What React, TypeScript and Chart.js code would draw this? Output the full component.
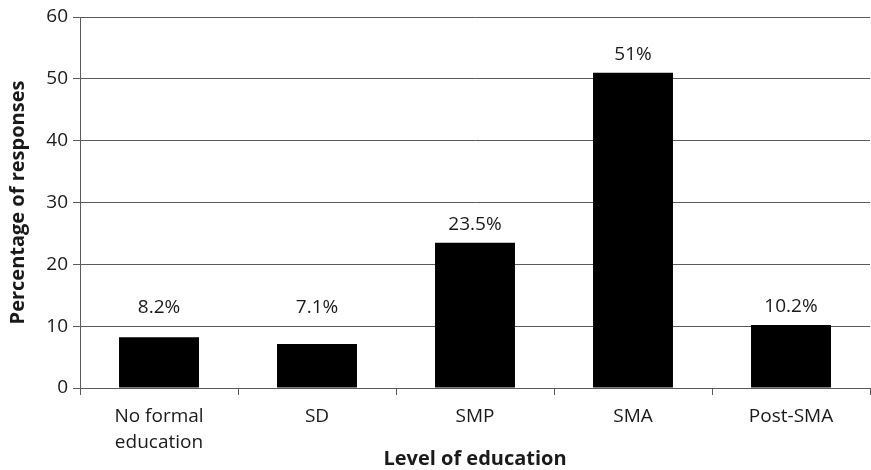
import React, { useEffect, useRef } from "react";
import { Chart, registerables } from "chart.js";

Chart.register(...registerables);

// Education level categories (multi-line tick labels)
const categories: string[][] = [
  ["No formal", "education"],
  ["SD"],
  ["SMP"],
  ["SMA"],
  ["Post-SMA"],
];

// Share of responses per education level (%)
const responseShare: number[] = [8.2, 7.1, 23.5, 51, 10.2];

// Text printed above each bar
const valueLabels: string[] = ["8.2%", "7.1%", "23.5%", "51%", "10.2%"];

const yTickMin = 0;
const yTickMax = 60;
const yTickStep = 10;

const FONT = "'Open Sans', 'DejaVu Sans', sans-serif";
const TEXT = "#1a1a1a";
const LINE = "#5a5a5a";

// Draws the percentage text above each bar, kept clear of the first gridline
const valueLabelPlugin = {
  id: "valueLabels",
  afterDatasetsDraw(chart: any) {
    const { ctx } = chart;
    const meta = chart.getDatasetMeta(0);
    const yScale = chart.scales.y;
    const floorPx = yScale.getPixelForValue(yTickStep);
    ctx.save();
    ctx.font = `19px ${FONT}`;
    ctx.fillStyle = TEXT;
    ctx.textAlign = "center";
    ctx.textBaseline = "alphabetic";
    meta.data.forEach((bar: any, i: number) => {
      const anchor = Math.min(bar.y, floorPx);
      ctx.fillText(valueLabels[i], bar.x, anchor - 13);
    });
    ctx.restore();
  },
};

export default function App() {
  const canvasRef = useRef<HTMLCanvasElement | null>(null);

  useEffect(() => {
    if (!canvasRef.current) return;
    const chart = new Chart(canvasRef.current, {
      type: "bar",
      data: {
        labels: categories,
        datasets: [
          {
            data: responseShare,
            backgroundColor: "#000000",
            borderWidth: 0,
            barPercentage: 0.506,
            categoryPercentage: 1,
          },
        ],
      },
      options: {
        animation: false,
        responsive: true,
        maintainAspectRatio: false,
        layout: { padding: { top: 17, right: 1, left: 0, bottom: 0 } },
        plugins: {
          legend: { display: false },
          tooltip: { enabled: false },
        },
        scales: {
          x: {
            grid: {
              offset: true,
              drawOnChartArea: false,
              drawTicks: true,
              tickLength: 7,
              color: LINE,
            },
            border: { color: LINE, width: 1 },
            ticks: {
              color: TEXT,
              font: { family: FONT, size: 19, lineHeight: 1.35 },
              padding: 9,
              maxRotation: 0,
              autoSkip: false,
            },
            title: {
              display: true,
              text: "Level of education",
              color: TEXT,
              font: { family: FONT, size: 20, weight: "bold", lineHeight: 1.2 },
              padding: { top: 0, bottom: -1 },
            },
            afterFit(scale: any) {
              scale.height = 82;
            },
          },
          y: {
            min: yTickMin,
            max: yTickMax,
            ticks: {
              stepSize: yTickStep,
              color: TEXT,
              font: { family: FONT, size: 19 },
              padding: 5,
            },
            grid: {
              color: LINE,
              tickLength: 7,
            },
            border: { color: LINE, width: 1 },
            title: {
              display: true,
              text: "Percentage of responses",
              color: TEXT,
              font: { family: FONT, size: 20, weight: "bold", lineHeight: 1.2 },
              padding: { top: 6, bottom: 0 },
            },
            afterFit(scale: any) {
              scale.width = 80;
            },
          },
        },
      },
      plugins: [valueLabelPlugin],
    });
    return () => chart.destroy();
  }, []);

  return (
    <div
      style={{
        position: "fixed",
        left: 0,
        top: 0,
        width: 871,
        height: 470,
        background: "#ffffff",
      }}
    >
      <canvas ref={canvasRef} />
    </div>
  );
}
